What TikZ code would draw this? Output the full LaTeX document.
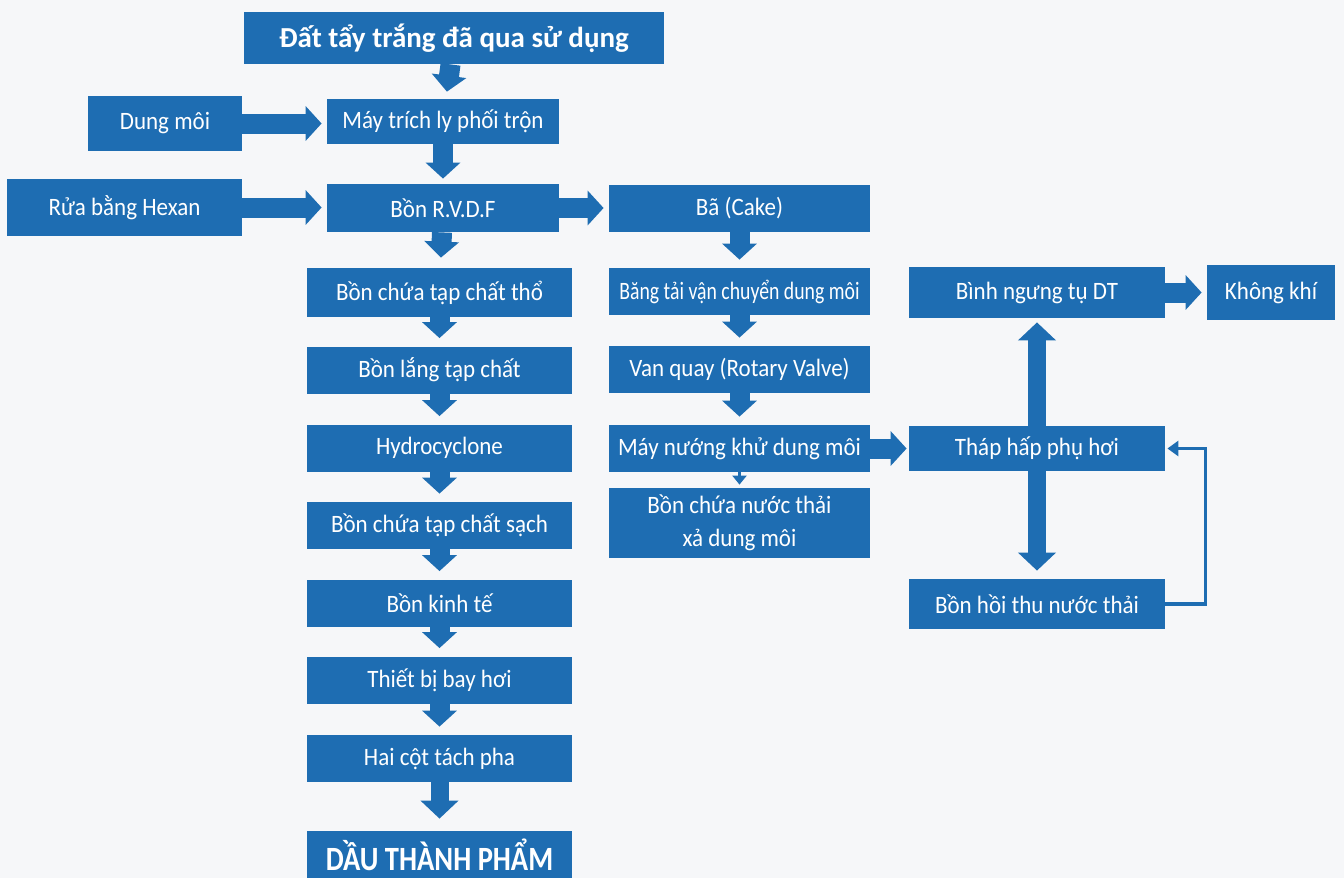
\documentclass[tikz,border=0pt]{standalone}
\usepackage{fontspec}
\setmainfont{Carlito}[FakeStretch=0.92]
\newfontfamily\widefont{Carlito}
\newfontfamily\narrowfont{Carlito}[FakeStretch=0.79]
\newfontfamily\oilfont{Carlito}[FakeStretch=0.84]
\usepackage{tikz}
\usetikzlibrary{arrows.meta,positioning}
\definecolor{flowblue}{HTML}{1E6DB2}
\definecolor{paperbg}{HTML}{F6F7F9}

\begin{document}
\begin{tikzpicture}[x=0.5pt,y=-0.5pt,
    box/.style={fill=flowblue,text=white,inner sep=0pt,align=center,
      font=\fontsize{12.5}{16.5}\selectfont,minimum height=23.5pt},
    colbox/.style={box,minimum width=132.5pt},
    midbox/.style={box,minimum width=130.5pt},
    rightbox/.style={box,minimum width=128pt},
    flow/.style={flowblue,line width=10pt,shorten >=2.5pt,
      -{Triangle[width=17pt,length=8pt]}},
    bigflow/.style={flowblue,line width=9pt,shorten >=2pt,
      -{Triangle[width=18.5pt,length=9pt]}},
    thinflow/.style={flowblue,line width=1.6pt,shorten >=1pt,
      -{Triangle[width=7.5pt,length=5.5pt]}},
    tinyflow/.style={flowblue,line width=1.5pt,shorten >=1.5pt,
      -{Triangle[width=7pt,length=4.5pt]}}]
    \useasboundingbox (0,0) rectangle (1344,878);
    \fill[paperbg] (0,0) rectangle (1344,878);
    \node[box,minimum width=210pt,minimum height=26pt,font=\fontsize{14.5}{16}\selectfont\widefont\bfseries] (soil) at (454,38) {Đất tẩy trắng đã qua sử dụng};
    \node[box,minimum width=116pt,minimum height=22.5pt] (mixer) at (443,121.5) {Máy trích ly phối trộn};
    \node[box,minimum width=116pt,minimum height=24pt] (rvdf) at (443,208) {Bồn R.V.D.F};
    \node[box,minimum width=77pt,minimum height=27.5pt] (solvent) at (165,123.5) {Dung môi};
    \node[box,minimum width=117.5pt,minimum height=28.5pt] (hexan) at (124.5,207.5) {Rửa bằng Hexan};
    \node[colbox,minimum height=24.5pt] (crude) at (439.5,292.5) {Bồn chứa tạp chất thổ};
    \node[colbox] (settle) at (439.5,370) {Bồn lắng tạp chất};
    \node[colbox] (hydro) at (439.5,448) {Hydrocyclone};
    \node[colbox] (clean) at (439.5,525.5) {Bồn chứa tạp chất sạch};
    \node[colbox] (eco) at (439.5,603) {Bồn kinh tế};
    \node[colbox] (evap) at (439.5,680) {Thiết bị bay hơi};
    \node[colbox] (phase) at (439.5,758.5) {Hai cột tách pha};
    \node[colbox,minimum height=24pt,font=\fontsize{17}{20}\selectfont\oilfont\bfseries] (oil) at (439.5,855) {DẦU THÀNH PHẨM};
    \node[midbox] (cake) at (739.5,208.5) {Bã (Cake)};
    \node[midbox,font=\fontsize{12.5}{16.5}\selectfont\narrowfont] (belt) at (739.5,291.5) {Băng tải vận chuyển dung môi};
    \node[midbox] (valve) at (739.5,369.5) {Van quay (Rotary Valve)};
    \node[midbox] (toaster) at (739.5,448.5) {Máy nướng khử dung môi};
    \node[midbox,minimum height=35pt] (waste) at (739.5,523) {Bồn chứa nước thải\\xả dung môi};
    \node[rightbox,minimum height=25.5pt] (condenser) at (1037,292.5) {Bình ngưng tụ DT};
    \node[rightbox,minimum height=22.5pt] (tower) at (1037,448.5) {Tháp hấp phụ hơi};
    \node[rightbox,minimum height=25pt] (recovery) at (1037,604) {Bồn hồi thu nước thải};
    \node[box,minimum width=64pt,minimum height=27.5pt] (air) at (1271,292.5) {Không khí};
    \draw[flow,shorten >=3.5pt] (soil) -- (mixer);
    \draw[flow] (mixer) -- (rvdf);
    \draw[flow] (solvent.east) -- (solvent.east -| mixer.west);
    \draw[flow] (hexan.east) -- (hexan.east -| rvdf.west);
    \draw[flow] (rvdf.east) -- (rvdf.east -| cake.west);
    \draw[flow,shorten >=5pt] (rvdf) -- (crude);
    \foreach \a/\b in {crude/settle,settle/hydro,hydro/clean,clean/eco,eco/evap,evap/phase}
      \draw[flow,shorten >=4pt] (\a) -- (\b);
    \draw[bigflow,shorten >=6pt] (phase) -- (oil);
    \foreach \a/\b in {cake/belt,belt/valve,valve/toaster}
      \draw[flow,shorten >=4pt] (\a) -- (\b);
    \draw[tinyflow] (toaster) -- (waste);
    \draw[flow,shorten >=1pt] (toaster.east) -- (toaster.east -| tower.west);
    \draw[flow] (condenser.east) -- (condenser.east -| air.west);
    \draw[bigflow] (tower) -- (condenser);
    \draw[bigflow,shorten >=4pt] (tower) -- (recovery);
    \draw[thinflow] (recovery.east) -- ++(40,0) |- (tower.east);
  \end{tikzpicture}
\end{document}
